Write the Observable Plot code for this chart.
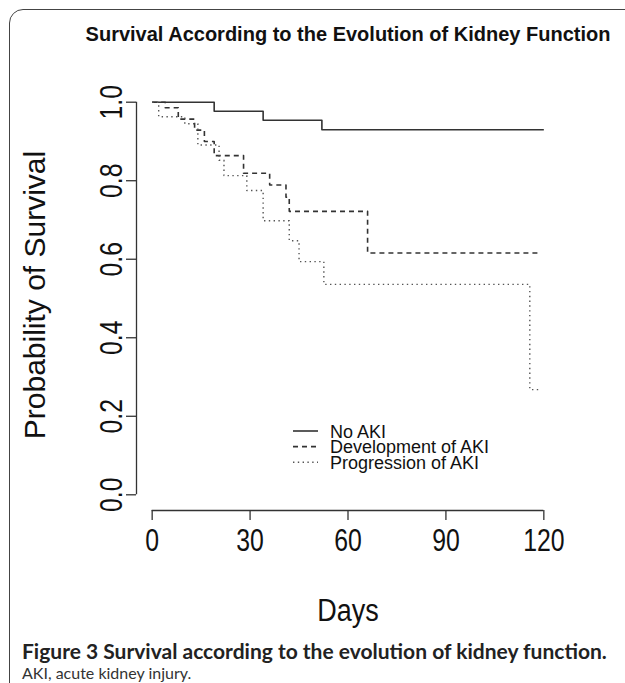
<!DOCTYPE html>
<html><head><meta charset="utf-8">
<script src="https://cdn.jsdelivr.net/npm/d3@7"></script>
<script src="https://cdn.jsdelivr.net/npm/@observablehq/plot@0.6"></script>
<style>
html,body{margin:0;padding:0;background:#fff;overflow:hidden;width:625px;height:683px;}
#frame{position:absolute;left:9px;top:9px;width:660px;height:700px;border:1.5px solid #444;border-radius:14px;box-sizing:border-box;}
#chart{position:absolute;left:0;top:0;}
.t{position:absolute;white-space:nowrap;font-family:"Liberation Sans",Arial,sans-serif;color:#111;line-height:1;}
.c{transform:translate(-50%,-50%);}
#legend{position:absolute;left:288px;top:418px;}
</style></head><body>
<div id="frame"></div>
<div id="chart"></div>
<div class="t c" id="title" style="left:348px;top:34px;font-size:20px;font-weight:bold;">Survival According to the Evolution of Kidney Function</div>
<div class="t" id="ylab" style="left:35px;top:295px;font-size:30px;transform:translate(-50%,-50%) rotate(-90deg);">Probability of Survival</div>
<div class="t" id="xlab" style="left:348px;top:610px;font-size:31px;transform:translate(-50%,-50%) scale(0.87,1);">Days</div>
<div class="t" id="cap1" style="left:22px;top:640px;font-size:21px;font-weight:bold;font-family:Lato,'Open Sans',sans-serif;color:#222;">Figure 3 Survival according to the evolution of kidney function.</div>
<div class="t" id="cap2" style="left:22px;top:665px;font-size:16px;font-family:Lato,'Open Sans',sans-serif;color:#333;">AKI, acute kidney injury.</div>
<svg id="legend" width="230" height="60"></svg>
<script>
// ---- data (Kaplan-Meier step points: day, survival) ----
const groups = ["No AKI", "Development of AKI", "Progression of AKI"];
const noAkiDays = [0, 19, 34, 52, 120];
const noAkiSurv = [1.0, 0.977, 0.954, 0.930, 0.930];
const devDays = [0, 4, 8, 13, 16, 19, 28, 36, 41, 42, 66, 119];
const devSurv = [1.0, 0.986, 0.957, 0.929, 0.900, 0.864, 0.819, 0.789, 0.758, 0.722, 0.616, 0.616];
const progDays = [0, 2, 10, 14, 20.5, 22, 29, 34, 42, 45, 52.6, 115.7, 119];
const progSurv = [1.0, 0.963, 0.945, 0.891, 0.852, 0.813, 0.775, 0.698, 0.647, 0.594, 0.536, 0.268, 0.268];
const xTicks = [0, 30, 60, 90, 120];
const yTicks = [0, 0.2, 0.4, 0.6, 0.8, 1.0];
const xDomain = [-4.8, 124.8];
const yDomain = [-0.04, 1.04];

const styles = {
  "No AKI": {stroke: "#333", dash: null, w: 1.6},
  "Development of AKI": {stroke: "#333", dash: "5,4", w: 1.6},
  "Progression of AKI": {stroke: "#555", dash: "1.4,3.4", w: 1.4}
};
const allDays = [noAkiDays, devDays, progDays];
const allSurv = [noAkiSurv, devSurv, progSurv];
const rows = groups.flatMap((g, k) => allDays[k].map((d, i) => ({group: g, day: d, surv: allSurv[k][i]})));

const font = "'Liberation Sans', Arial, sans-serif";
const chart = Plot.plot({
  width: 625, height: 570,
  marginLeft: 136, marginRight: 66, marginTop: 86, marginBottom: 60,
  x: {domain: xDomain},
  y: {domain: yDomain},
  style: {fontFamily: font, background: "transparent", color: "#111"},
  marks: [
    Plot.ruleY([yDomain[0]], {x1: xTicks[0], x2: xTicks[xTicks.length - 1], stroke: "#333", strokeWidth: 1.3}),
    Plot.ruleX([xDomain[0]], {y1: yTicks[0], y2: yTicks[yTicks.length - 1], stroke: "#333", strokeWidth: 1.3}),
    Plot.axisX({ticks: xTicks, tickSize: 10, tickPadding: 8, fontSize: 31, label: null, stroke: "#333", strokeWidth: 1.3}),
    Plot.axisY({ticks: yTicks, tickSize: 10, tickPadding: 5, tickRotate: -90, fontSize: 31, label: null, tickFormat: d3.format(".1f"), stroke: "#333", strokeWidth: 1.3}),
    ...groups.map(g => Plot.line(rows.filter(r => r.group === g), {
      x: "day", y: "surv", curve: "step-after",
      stroke: styles[g].stroke, strokeWidth: styles[g].w,
      strokeDasharray: styles[g].dash, strokeLinecap: "butt"
    }))
  ]
});
// condensed tick labels (narrow glyphs as in the reference)
const k = 0.8;
chart.querySelectorAll('g[aria-label$="tick label"] text').forEach(t => {
  const xa = t.getAttribute("x");
  if (xa !== null && !isNaN(parseFloat(xa))) t.setAttribute("x", parseFloat(xa) / k);
  const tr = t.getAttribute("transform") || "";
  t.setAttribute("transform", `${tr} scale(${k},1)`);
});
document.getElementById("chart").appendChild(chart);

// legend
const lg = d3.select("#legend");
groups.forEach((g, i) => {
  const y = 13 + i * 15.6;
  lg.append("line").attr("x1", 5).attr("x2", 30).attr("y1", y).attr("y2", y)
    .attr("stroke", styles[g].stroke).attr("stroke-width", styles[g].w)
    .attr("stroke-dasharray", styles[g].dash);
  lg.append("text").attr("x", 42).attr("y", y + 6.5).text(g)
    .attr("font-family", font).attr("font-size", 18).attr("fill", "#111");
});
</script>
</body></html>
